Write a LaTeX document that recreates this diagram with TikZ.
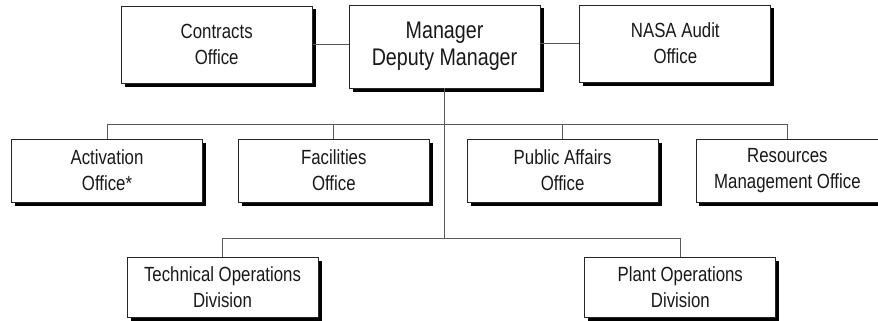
\documentclass[tikz,border=0pt]{standalone}
\usepackage{fontspec}
\setmainfont[FakeStretch=0.82]{Liberation Sans}
\usepackage{tikz}
\usetikzlibrary{
    calc,
    positioning,
    shadows,
}
\colorlet{LineGray}{black!65}
\tikzstyle{unit}=[draw=black!85,fill=white,rectangle,line width=0.8pt,align=center,
    minimum width=191pt,minimum height=62pt,inner sep=0pt,text=black!90,
    font={\fontsize{20.5}{26}\selectfont},
    drop shadow={shadow xshift=3.5pt,shadow yshift=-3.5pt,fill=black,opacity=1}]
\tikzstyle{wire}=[draw=LineGray,line width=0.8pt]
\newcommand{\Unit}[3][]{%
    \node[unit,#1] (#2) {#3};
}

\begin{document}
\begin{tikzpicture}[x=1pt,y=1pt]
    \useasboundingbox (0,0) rectangle (878,-321);

    % Top row
    \Unit[minimum height=83pt,font={\fontsize{24}{27}\selectfont},at={(444.5,-46.5)}]{manager}{Manager\\Deputy Manager}
    \Unit[minimum height=77pt,left=36pt of manager,yshift=2pt]{contracts}{Contracts\\Office}
    \Unit[minimum height=77pt,right=39pt of manager,yshift=3pt]{nasa}{NASA Audit\\Office}

    % Offices
    \Unit[minimum height=63pt,at={(107,-170.5)}]{activation}{Activation\\Office*}
    \Unit[minimum height=63pt,right=35pt of activation]{facilities}{Facilities\\Office}
    \Unit[minimum height=63pt,right=37pt of facilities]{public}{Public Affairs\\Office}
    \Unit[minimum height=63pt,minimum width=183pt,right=37pt of public]{resources}{Resources\\Management Office}

    % Divisions
    \Unit[minimum height=60pt,at={(222.5,-287.5)}]{technical}{Technical Operations\\Division}
    \Unit[minimum height=60pt,right=266pt of technical]{plant}{Plant Operations\\Division}

    % Links
    \draw[wire] (contracts.east) -- (contracts.east -| manager.west);
    \draw[wire] (nasa.west) -- (nasa.west -| manager.east);

    \coordinate (bus3) at ([yshift=19pt]technical.north);
    \draw[wire] (manager.south) -- (bus3 -| manager.south);
    \draw[wire] (activation.north) -- ++(0,14) -| (resources.north);
    \draw[wire] (facilities.north) -- ++(0,14);
    \draw[wire] (public.north) -- ++(0,14);
    \draw[wire] (technical.north) -- (bus3) -| (plant.north);
\end{tikzpicture}
\end{document}
